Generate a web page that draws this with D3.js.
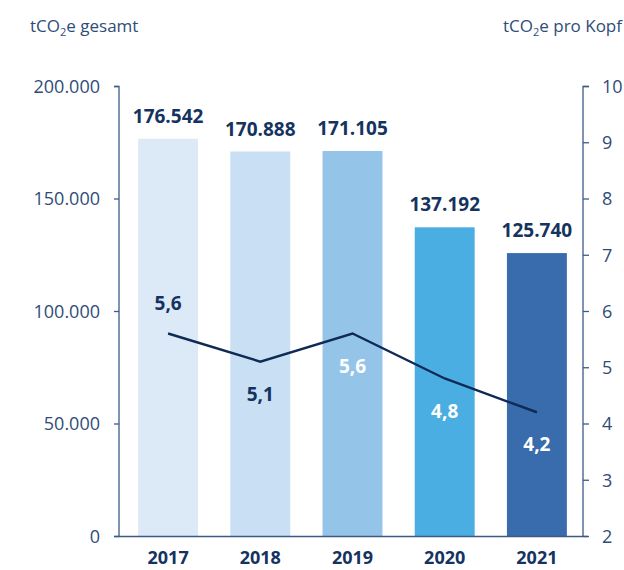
<!DOCTYPE html>
<html><head><meta charset="utf-8">
<script src="https://cdn.jsdelivr.net/npm/d3@7"></script>
<style>body{margin:0;background:#fff}svg{display:block}text{font-family:"Open Sans",sans-serif}</style>
</head><body><svg id="c" width="624" height="570"></svg>
<script>
const years = ["2017","2018","2019","2020","2021"];
const totals = [176542, 170888, 171105, 137192, 125740];
const totalLabels = ["176.542","170.888","171.105","137.192","125.740"];
const perCapita = [5.6, 5.1, 5.6, 4.8, 4.2];
const perCapitaLabels = ["5,6","5,1","5,6","4,8","4,2"];
const barColors = ["#dce9f7","#c9dff3","#95c4e9","#4aaee2","#386cac"];
const leftTicks = [0, 50000, 100000, 150000, 200000];
const leftTickLabels = ["0","50.000","100.000","150.000","200.000"];
const rightTicks = [2,3,4,5,6,7,8,9,10];

const svg = d3.select("#c");
const axisCol = "#3d5a86", textCol = "#15335f", tickTextCol = "#2f4c78";
const x = d3.scaleBand().domain(years).range([122, 583]).paddingInner(0.35).paddingOuter(0.175);
const yL = d3.scaleLinear().domain([0, 200000]).range([536, 86]);
const yR = d3.scaleLinear().domain([2, 10]).range([536, 86]);

// bars
svg.selectAll("rect.bar").data(years).join("rect")
  .attr("x", d => x(d)).attr("width", x.bandwidth())
  .attr("y", (d,i) => yL(totals[i])).attr("height", (d,i) => yL(0) - yL(totals[i]))
  .attr("fill", (d,i) => barColors[i]);

// left axis
const la = svg.append("g").attr("transform","translate(119,0)")
  .call(d3.axisLeft(yL).tickValues(leftTicks).tickFormat((d,i)=>leftTickLabels[i]).tickSize(5).tickPadding(14));
// right axis
const ra = svg.append("g").attr("transform","translate(583,0)")
  .call(d3.axisRight(yR).tickValues(rightTicks).tickSize(6).tickPadding(13));
[la, ra].forEach(g => {
  g.select(".domain").attr("stroke", axisCol).attr("stroke-width", 1.3);
  g.selectAll(".tick line").attr("stroke", axisCol).attr("stroke-width", 1.3);
  g.selectAll(".tick text").attr("fill", tickTextCol).style("font-size","18px").style("font-family","'Open Sans',sans-serif").attr("dy","0.35em");
});
la.select(".domain").attr("d","M-5,86.5H0V536.5");
ra.select(".domain").attr("d","M6,86.5H0V536.5");
// baseline
svg.append("line").attr("x1",114).attr("x2",588).attr("y1",536.5).attr("y2",536.5)
  .attr("stroke",axisCol).attr("stroke-width",1.3);

// year labels
svg.selectAll("text.yr").data(years).join("text")
  .attr("x", d => x(d) + x.bandwidth()/2).attr("y", 564)
  .attr("text-anchor","middle").attr("fill",textCol)
  .style("font-size","18px").style("font-weight","700").text(d=>d);

// total labels
svg.selectAll("text.tot").data(years).join("text")
  .attr("x", d => x(d) + x.bandwidth()/2).attr("y", (d,i) => yL(totals[i]) - 16)
  .attr("text-anchor","middle").attr("fill",textCol)
  .style("font-size","19px").style("font-weight","700").text((d,i)=>totalLabels[i]);

// line
const line = d3.line().x((d,i) => x(years[i]) + x.bandwidth()/2).y(d => yR(d));
svg.append("path").datum(perCapita).attr("d", line)
  .attr("fill","none").attr("stroke","#0f2a57").attr("stroke-width",2.4);

// line labels
const above = [true,false,false,false,false];
const lblCol = [textCol,textCol,"#ffffff","#ffffff","#ffffff"];
svg.selectAll("text.pc").data(perCapita).join("text")
  .attr("x", (d,i) => x(years[i]) + x.bandwidth()/2)
  .attr("y", (d,i) => above[i] ? yR(d) - 24 : yR(d) + 39)
  .attr("text-anchor","middle").attr("fill",(d,i)=>lblCol[i])
  .style("font-size","19px").style("font-weight","700").text((d,i)=>perCapitaLabels[i]);

// titles
function title(xp, anchor, rest){
  const t = svg.append("text").attr("x",xp).attr("y",32).attr("text-anchor",anchor)
    .attr("fill",tickTextCol).style("font-size","17px");
  t.append("tspan").text("tCO");
  t.append("tspan").attr("dy",4).style("font-size","11px").text("2");
  t.append("tspan").attr("dy",-4).text(rest);
}
title(30,"start","e gesamt");
title(622,"end","e pro Kopf");
</script></body></html>
